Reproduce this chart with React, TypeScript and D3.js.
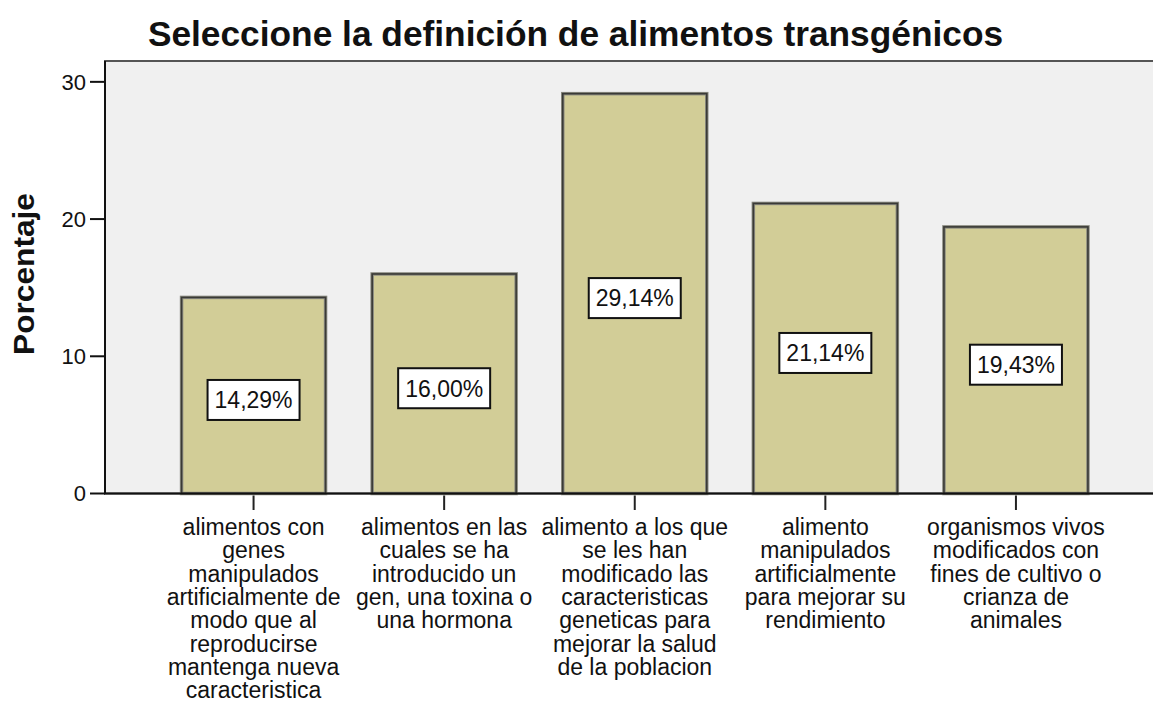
import React, { useEffect, useRef } from 'react'
import * as d3 from 'd3'

// chart data
const title = 'Seleccione la definición de alimentos transgénicos'
const yLabel = 'Porcentaje'
const categories = [
  ['alimentos con', 'genes', 'manipulados', 'artificialmente de', 'modo que al', 'reproducirse', 'mantenga nueva', 'caracteristica'],
  ['alimentos en las', 'cuales se ha', 'introducido un', 'gen, una toxina o', 'una hormona'],
  ['alimento a los que', 'se les han', 'modificado las', 'caracteristicas', 'geneticas para', 'mejorar la salud', 'de la poblacion'],
  ['alimento', 'manipulados', 'artificialmente', 'para mejorar su', 'rendimiento'],
  ['organismos vivos', 'modificados con', 'fines de cultivo o', 'crianza de', 'animales'],
]
const percentages = [14.29, 16.0, 29.14, 21.14, 19.43]
const yTicks = [0, 10, 20, 30]

const W = 1153
const H = 702
const FONT = 'Arial, "Liberation Sans", sans-serif'

export default function App() {
  const ref = useRef<SVGSVGElement | null>(null)

  useEffect(() => {
    if (!ref.current) return
    const svg = d3.select(ref.current)
    svg.selectAll('*').remove()

    const left = 105
    const top = 61
    const bottom = 493.5
    const right = 1164.5

    const x = d3
      .scaleBand<number>()
      .domain(d3.range(percentages.length))
      .range([left, right])
      .paddingInner(0.2445)
      .paddingOuter(0.4017)
    const y = d3.scaleLinear().domain([0, 31.52]).range([bottom, top])

    // plot background
    svg
      .append('rect')
      .attr('x', left)
      .attr('y', top)
      .attr('width', right - left)
      .attr('height', bottom - top)
      .attr('fill', '#f0f0f0')
      .attr('stroke', '#555')
      .attr('stroke-width', 2)

    // bars
    const bars = svg.append('g').selectAll('g').data(percentages).join('g')
    bars
      .append('rect')
      .attr('x', (_d, i) => x(i)!)
      .attr('y', (d) => y(d))
      .attr('width', x.bandwidth())
      .attr('height', (d) => bottom - y(d))
      .attr('fill', '#d2cd97')
      .attr('stroke', '#8a8a80')
      .attr('stroke-width', 3.5)
    bars
      .append('rect')
      .attr('x', (_d, i) => x(i)!)
      .attr('y', (d) => y(d))
      .attr('width', x.bandwidth())
      .attr('height', (d) => bottom - y(d))
      .attr('fill', 'none')
      .attr('stroke', '#3a3a36')
      .attr('stroke-width', 1.6)

    // value labels
    const fmt = (v: number) => v.toFixed(2).replace('.', ',') + '%'
    const lab = svg.append('g').selectAll('g').data(percentages).join('g')
      .attr('transform', (d, i) => `translate(${x(i)! + x.bandwidth() / 2},${(y(d) + bottom) / 2 + 4.5})`)
    lab
      .append('rect')
      .attr('x', -46)
      .attr('y', -20)
      .attr('width', 92)
      .attr('height', 40)
      .attr('fill', '#fff')
      .attr('stroke', '#111')
      .attr('stroke-width', 2)
    lab
      .append('text')
      .attr('text-anchor', 'middle')
      .attr('dy', '0.36em')
      .attr('font-family', FONT)
      .attr('font-size', 23)
      .attr('fill', '#111')
      .text((d) => fmt(d))

    // axes lines
    svg.append('line')
      .attr('x1', left).attr('x2', left).attr('y1', top).attr('y2', bottom)
      .attr('stroke', '#111').attr('stroke-width', 2)
    svg.append('line')
      .attr('x1', left - 1).attr('x2', right).attr('y1', bottom).attr('y2', bottom)
      .attr('stroke', '#111').attr('stroke-width', 2)

    // y ticks
    const yt = svg.append('g').selectAll('g').data(yTicks).join('g')
      .attr('transform', (d) => `translate(0,${y(d)})`)
    yt.append('line').attr('x1', 90).attr('x2', left).attr('stroke', '#111').attr('stroke-width', 2)
    yt.append('text')
      .attr('x', 86)
      .attr('dy', '0.36em')
      .attr('text-anchor', 'end')
      .attr('font-family', FONT)
      .attr('font-size', 22)
      .attr('fill', '#111')
      .text((d) => d)

    // x ticks + category labels
    const xt = svg.append('g').selectAll('g').data(categories).join('g')
      .attr('transform', (_d, i) => `translate(${x(i)! + x.bandwidth() / 2},0)`)
    xt.append('line').attr('y1', bottom + 2).attr('y2', 510).attr('stroke', '#222').attr('stroke-width', 2)
    const ct = xt.append('text')
      .attr('text-anchor', 'middle')
      .attr('font-family', FONT)
      .attr('font-size', 23)
      .attr('fill', '#111')
    ct.selectAll('tspan')
      .data((d) => d)
      .join('tspan')
      .attr('x', 0)
      .attr('y', (_d, i) => 535 + i * 23.3)
      .text((d) => d)

    // title
    svg.append('text')
      .attr('x', 575.5)
      .attr('y', 46)
      .attr('text-anchor', 'middle')
      .attr('font-family', FONT)
      .attr('font-weight', 'bold')
      .attr('font-size', 35.3)
      .attr('fill', '#111')
      .text(title)

    // y axis title
    svg.append('text')
      .attr('transform', 'translate(34,274) rotate(-90)')
      .attr('text-anchor', 'middle')
      .attr('font-family', FONT)
      .attr('font-weight', 'bold')
      .attr('font-size', 30)
      .attr('textLength', 162)
      .attr('lengthAdjust', 'spacingAndGlyphs')
      .attr('fill', '#111')
      .text(yLabel)

    return () => {
      svg.selectAll('*').remove()
    }
  }, [])

  return (
    <svg
      ref={ref}
      width={W}
      height={H}
      style={{ position: 'absolute', left: 0, top: 0, background: '#fff' }}
    />
  )
}
